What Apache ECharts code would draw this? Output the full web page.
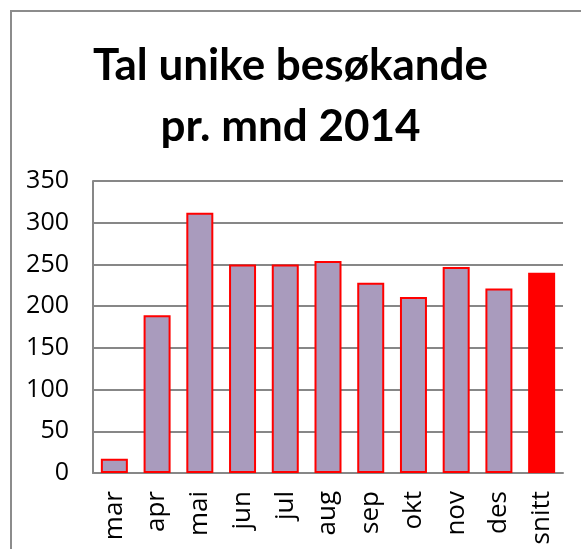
<!DOCTYPE html>
<html>
<head>
<meta charset="utf-8">
<script src="https://cdn.jsdelivr.net/npm/echarts@6/dist/echarts.min.js"></script>
<style>
html,body{margin:0;padding:0;background:#fff;}
#c{width:581px;height:549px;}
</style>
</head>
<body>
<div id="c"></div>
<script>
const titleText = 'Tal unike besøkande\npr. mnd 2014';
const months = ['mar','apr','mai','jun','jul','aug','sep','okt','nov','des'];
const visitors = [17,189,312,250,250,254,228,211,247,221];
const avgLabel = 'snitt';
const avgValue = 240;
const yTicks = [0,50,100,150,200,250,300,350];

const categories = months.concat([avgLabel]);
const data = visitors.map(v => ({value: v}));
data.push({value: avgValue, itemStyle: {color: '#FF0000', borderColor: '#FF0000'}});

const chart = echarts.init(document.getElementById('c'), null, {renderer: 'canvas'});
chart.setOption({
  backgroundColor: '#fff',
  animation: false,
  title: {
    text: titleText,
    left: 'center',
    top: 30,
    textStyle: {fontFamily: 'Lato', fontWeight: 'bold', fontSize: 44, lineHeight: 61, color: '#000'}
  },
  graphic: [{
    type: 'rect', shape: {x: 11, y: 11, width: 700, height: 700},
    style: {fill: 'none', stroke: '#8c8c8c', lineWidth: 2}, silent: true
  }],
  grid: {left: 93, top: 181, right: 18, bottom: 76},
  xAxis: {
    type: 'category',
    data: categories,
    axisLine: {lineStyle: {color: '#878787', width: 2}},
    axisTick: {show: false},
    axisLabel: {rotate: 90, margin: 18, fontFamily: 'Open Sans', fontSize: 26, color: '#000', interval: 0}
  },
  yAxis: {
    type: 'value',
    min: yTicks[0],
    max: yTicks[yTicks.length - 1],
    interval: 50,
    axisLine: {show: true, lineStyle: {color: '#878787', width: 2}},
    axisTick: {show: false},
    splitLine: {lineStyle: {color: '#878787', width: 2}},
    axisLabel: {margin: 24, fontFamily: 'Open Sans', fontSize: 25, color: '#000'}
  },
  series: [{
    type: 'bar',
    data: data,
    barWidth: 27,
    itemStyle: {color: '#A99BBD', borderColor: '#FF0000', borderWidth: 2}
  }]
});
</script>
</body>
</html>
